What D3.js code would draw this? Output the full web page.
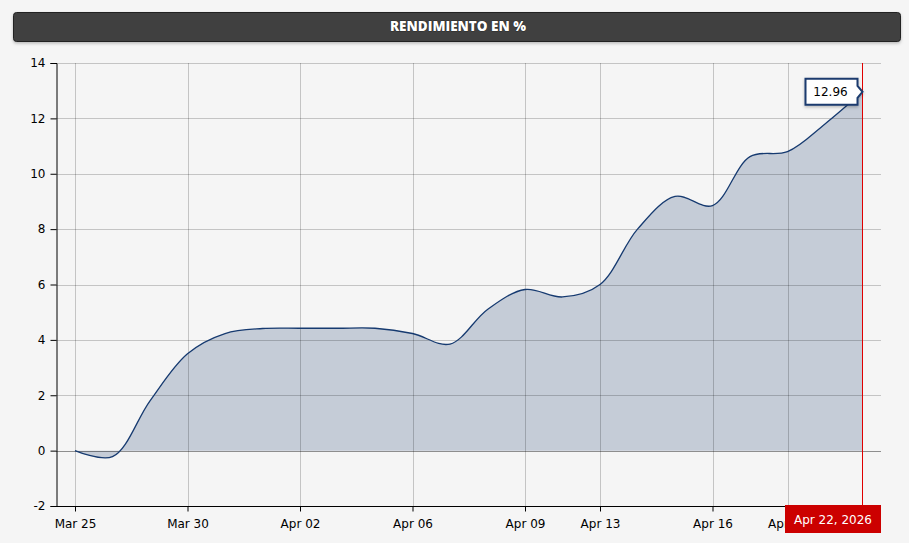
<!DOCTYPE html>
<html><head><meta charset="utf-8">
<script src="https://cdn.jsdelivr.net/npm/d3@7"></script>
<style>
html,body{margin:0;padding:0;background:#f5f5f5;}
svg{display:block;}
</style></head>
<body>
<svg id="chart" width="909" height="543"></svg>
<script>
const dates = ["Mar 25","Mar 26","Mar 27","Mar 30","Mar 31","Apr 01","Apr 02","Apr 03","Apr 04","Apr 06","Apr 07","Apr 08","Apr 09","Apr 10","Apr 13","Apr 14","Apr 15","Apr 16","Apr 17","Apr 20","Apr 21","Apr 22"];
const values = [0, -0.22, 1.8, 3.5, 4.23, 4.41, 4.42, 4.42, 4.42, 4.23, 3.85, 5.1, 5.82, 5.55, 6.0, 8.0, 9.18, 8.85, 10.62, 10.8, 11.8, 12.96];
const xTickLabels = ["Mar 25","Mar 30","Apr 02","Apr 06","Apr 09","Apr 13","Apr 16","Apr 20"];
const yTicks = [-2,0,2,4,6,8,10,12,14];
const title = "RENDIMIENTO EN %";
const lastLabel = "Apr 22, 2026";

const svg = d3.select("#chart");
const plot = {left:56, right:881, top:63, bottom:506};

// title bar
const defs = svg.append("defs");
const f = defs.append("filter").attr("id","sh").attr("x","-5%").attr("y","-30%").attr("width","110%").attr("height","180%");
f.append("feDropShadow").attr("dx",0).attr("dy",1.5).attr("stdDeviation",1.5).attr("flood-color","#000").attr("flood-opacity",0.25);
svg.append("rect").attr("x",13.5).attr("y",12.5).attr("width",887).attr("height",29).attr("rx",3)
  .attr("fill","#404040").attr("stroke","#222").attr("filter","url(#sh)");
svg.append("text").attr("x",458).attr("y",31).attr("text-anchor","middle")
  .attr("font-family","'Open Sans', sans-serif").attr("font-weight",800).attr("font-size",13.5)
  .attr("fill","#fff").style("paint-order","stroke").attr("stroke","#111").attr("stroke-width",0.6).text(title);

const x = d3.scalePoint().domain(dates).range([75, 862.5]);
const y = d3.scaleLinear().domain([-2,14]).range([plot.bottom, plot.top]);

// area
const data = dates.map((d,i)=>({d, v: values[i]}));
const curve = d3.curveCatmullRom.alpha(0.5);
const area = d3.area().x(p=>x(p.d)).y0(y(0)).y1(p=>y(p.v)).curve(curve);
const line = d3.line().x(p=>x(p.d)).y(p=>y(p.v)).curve(curve);
svg.append("path").datum(data).attr("d",area).attr("fill","#1a3a6e").attr("fill-opacity",0.22);

// grid (semi-transparent, drawn over the area)
const g = svg.append("g");
g.selectAll(".hg").data(yTicks.filter(d=>d!==-2)).join("line")
  .attr("x1",plot.left).attr("x2",plot.right)
  .attr("y1",d=>Math.round(y(d))+0.5).attr("y2",d=>Math.round(y(d))+0.5)
  .attr("stroke","#000").attr("stroke-opacity",d=>d===0?0.42:0.2).attr("stroke-width",1);
g.selectAll(".vg").data(xTickLabels).join("line")
  .attr("x1",d=>Math.round(x(d))+0.5).attr("x2",d=>Math.round(x(d))+0.5)
  .attr("y1",plot.top).attr("y2",plot.bottom)
  .attr("stroke","#000").attr("stroke-opacity",0.2).attr("stroke-width",1);

svg.append("path").datum(data).attr("d",line).attr("fill","none").attr("stroke","#163a70").attr("stroke-width",1.3);

// axes
const yAxis = d3.axisLeft(y).tickValues(yTicks).tickSize(6).tickPadding(5).tickFormat(d=>String(d));
const ya = svg.append("g").attr("transform",`translate(${plot.left+0.5},0)`).call(yAxis);
const xAxis = d3.axisBottom(x).tickValues(xTickLabels).tickSize(5).tickPadding(8);
const xa = svg.append("g").attr("transform",`translate(0,${plot.bottom+0.5})`).call(xAxis);
xa.select(".domain").attr("d",`M${plot.left},0H${plot.right}`);
[ya,xa].forEach(a=>{
  a.selectAll("text").attr("font-family","'DejaVu Sans', Verdana, sans-serif").attr("font-size",12).attr("fill","#000");
  a.selectAll("line,path").attr("stroke","#000");
});

// red marker line
const lx = x(dates[dates.length-1]);
svg.append("line").attr("x1",lx).attr("x2",lx).attr("y1",plot.top).attr("y2",plot.bottom)
  .attr("stroke","#e00000").attr("stroke-width",1);

// last date label
svg.append("rect").attr("x",785).attr("y",505).attr("width",96).attr("height",28).attr("fill","#cc0000");
svg.append("text").attr("x",833).attr("y",524).attr("text-anchor","middle")
  .attr("font-family","'DejaVu Sans', Verdana, sans-serif").attr("font-size",12).attr("fill","#fff").text(lastLabel);

// tooltip
const lv = values[values.length-1];
const py = y(lv);
const tip = svg.append("g");
tip.append("path")
  .attr("d",`M${lx-57},${py-13}H${lx-5}V${py-6}L${lx},${py}L${lx-5},${py+6}V${py+13}H${lx-57}Z`)
  .attr("fill","#fff").attr("stroke","#1a3a6e").attr("stroke-width",2).attr("filter","url(#sh)");
tip.append("text").attr("x",lx-32).attr("y",py+4.5).attr("text-anchor","middle")
  .attr("font-family","'DejaVu Sans', Verdana, sans-serif").attr("font-size",12).attr("fill","#000")
  .text(d3.format(".2f")(lv));
</script>
</body></html>
